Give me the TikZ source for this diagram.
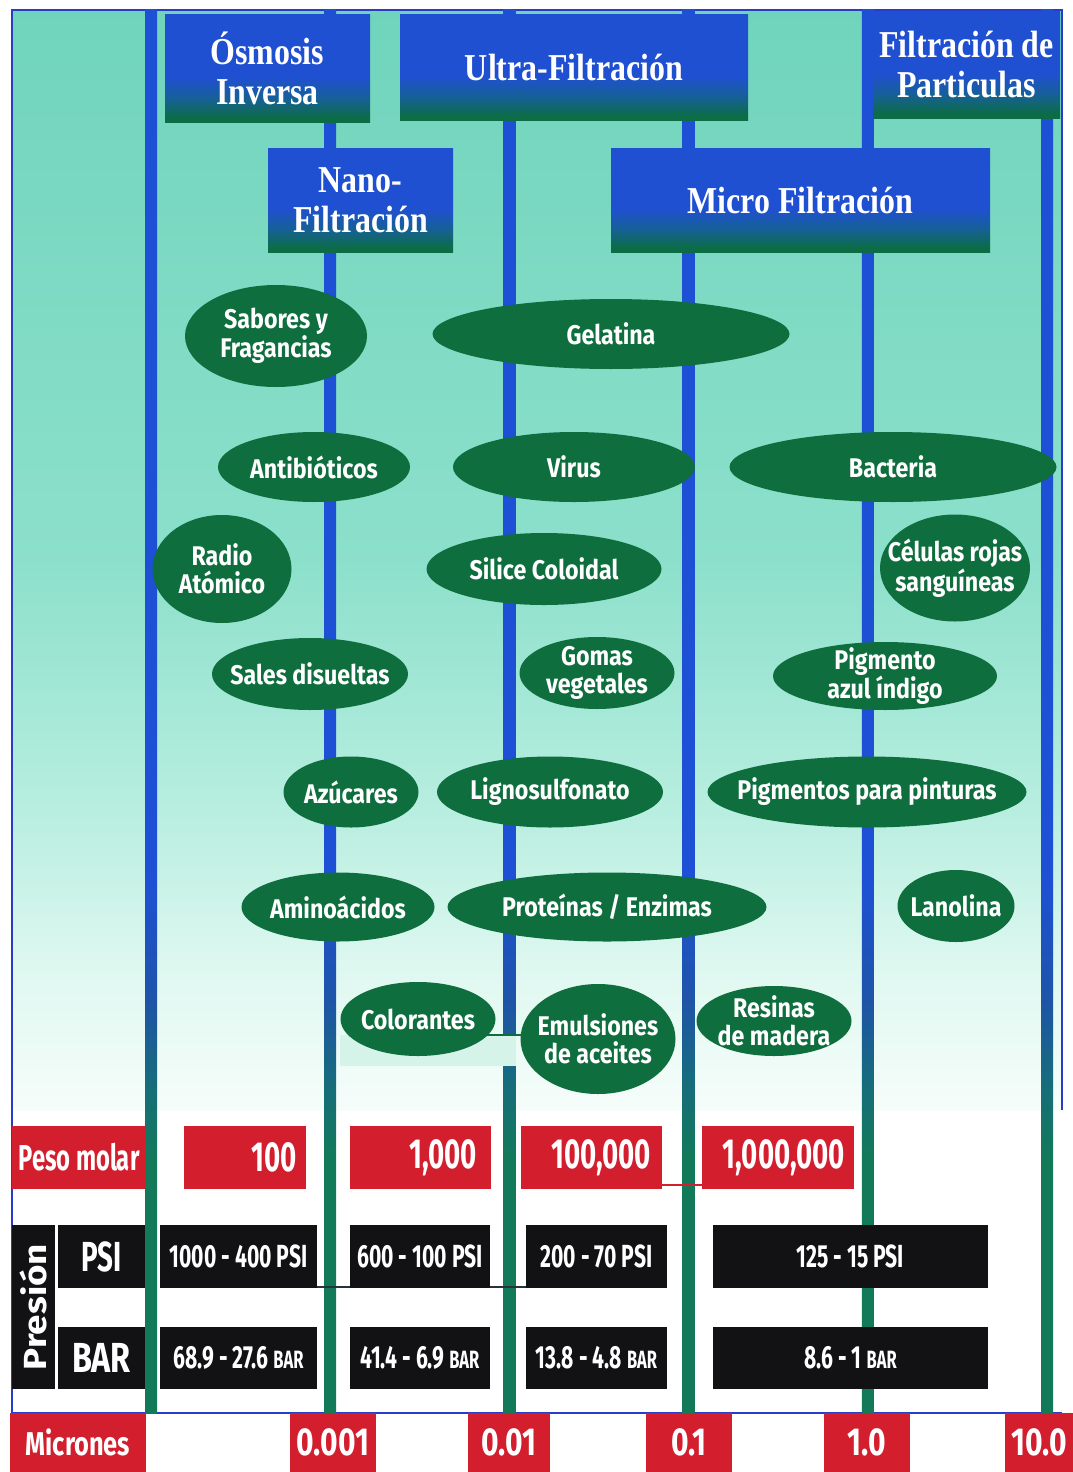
\documentclass[tikz,border=0pt]{standalone}
\usepackage{fontspec}
\usepackage{graphicx}
\usetikzlibrary{shapes.geometric}

\newfontfamily\hdrfont[FakeStretch=0.84]{Liberation Serif}
\newfontfamily\blobfont[FakeStretch=0.86]{Fira Sans}
\newfontfamily\tabfont[FakeStretch=0.66]{Fira Sans}
\newfontfamily\micfont[FakeStretch=0.77]{Fira Sans}
\newfontfamily\presfont[FakeStretch=1.15]{Fira Sans}

% palette
\definecolor{bgA}{RGB}{112,212,188}
\definecolor{bgB}{RGB}{140,224,203}
\definecolor{bgC}{RGB}{184,238,224}
\definecolor{bgD}{RGB}{222,248,240}
\definecolor{bgE}{RGB}{246,253,251}
\definecolor{lnB}{RGB}{30,80,214}
\definecolor{lnS}{RGB}{30,84,168}
\definecolor{lnT}{RGB}{22,110,120}
\definecolor{lnG}{RGB}{18,122,88}
\definecolor{hdB}{RGB}{32,80,210}
\definecolor{hdM}{RGB}{22,96,150}
\definecolor{hdG}{RGB}{12,108,70}
\definecolor{blobG}{RGB}{14,110,62}
\definecolor{tabR}{RGB}{210,30,45}
\definecolor{tabK}{RGB}{18,18,20}
\definecolor{frameB}{RGB}{40,60,200}
\definecolor{patchC}{RGB}{214,243,234}
\definecolor{linkK}{RGB}{40,50,60}

% shadings (0bp = bottom, the fitted band is 25bp..75bp)
\pgfdeclareverticalshading{panelbg}{100bp}{color(0bp)=(bgE); color(25bp)=(bgE); color(31.5bp)=(bgD); color(38.5bp)=(bgC); color(50bp)=(bgB); color(75bp)=(bgA); color(100bp)=(bgA)}
\pgfdeclareverticalshading{vline}{100bp}{color(0bp)=(lnG); color(34bp)=(lnG); color(36.5bp)=(lnT); color(39.7bp)=(lnS); color(44bp)=(lnB); color(100bp)=(lnB)}
\pgfdeclareverticalshading{hdrshade}{100bp}{color(0bp)=(hdG); color(27bp)=(hdG); color(36bp)=(hdM); color(46bp)=(hdB); color(100bp)=(hdB)}

\pgfdeclarelayer{back}
\pgfdeclarelayer{mid}
\pgfsetlayers{back,mid,main}

% ellipse with its label
\newcommand\blobat[6]{%
  \node[blob, minimum width=#4, minimum height=#5] (#1) at (#2,#3) {};
  \node[blobtxt] (#1-t) at (#1) {#6};}
% box given by its corners
\newcommand\tbox[7]{%
  \node[#1, minimum width={#5-#3}, minimum height={#6-#4}] (#2) at ({(#3+#5)/2},{(#4+#6)/2}) {#7};}

\begin{document}
\begin{tikzpicture}[x=1pt,y=-1pt,
  hdr/.style={rectangle, shade, shading=hdrshade, inner sep=0pt, text=white,
    font=\hdrfont\bfseries\fontsize{38}{40}\selectfont, align=center},
  blob/.style={ellipse, fill=blobG, inner sep=0pt},
  blobtxt/.style={text=white, inner sep=0pt, align=center,
    font=\blobfont\bfseries\fontsize{27}{27.5}\selectfont},
  tabbox/.style={rectangle, inner sep=0pt, text=white, font=\tabfont\bfseries},
  redbox/.style={tabbox, fill=tabR},
  blkbox/.style={tabbox, fill=tabK},
  pmval/.style={redbox, align=right, font=\tabfont\bfseries\fontsize{42}{42}\selectfont},
  psival/.style={blkbox, font=\tabfont\bfseries\fontsize{32}{32}\selectfont},
  micval/.style={redbox, font=\micfont\bfseries\fontsize{39}{39}\selectfont}
]
\useasboundingbox (0,0) rectangle (1073,1472);

\begin{pgfonlayer}{back}
  \fill[white] (0,0) rectangle (1073,1472);
  \shade[shading=panelbg] (12,10) rectangle (1062,1110);
  \draw[frameB, line width=2pt] (12,1413) -- (12,10) -- (1062,10) -- (1062,1110);
  \draw[frameB, line width=2pt] (12,1413) -- (1062,1413);
  \foreach \x in {151,330.2,509.4,688.6,867.8,1047}
    \shade[shading=vline] (\x-6,10) rectangle (\x+6,1413);
\end{pgfonlayer}

% process headers
\tbox{hdr}{osmosis}{165}{15}{370}{122}{Ósmosis\\Inversa}
\tbox{hdr}{ultra}{400}{15}{748}{120}{Ultra-Filtración}
\tbox{hdr}{partic}{873}{12}{1060}{118}{Filtración de\\Particulas}
\tbox{hdr}{nano}{268}{148}{453}{252}{Nano-\\Filtración}
\tbox{hdr}{micro}{611}{148}{990}{252}{Micro Filtración}

% substances
\blobat{sabores}{276}{336}{182}{102}{Sabores y\\Fragancias}
\blobat{gelatina}{611}{334}{357}{70}{Gelatina}
\blobat{antibio}{314}{467}{192}{70}{Antibióticos}
\blobat{virus}{574}{467}{242}{70}{Virus}
\blobat{bacteria}{893}{467}{327}{70}{Bacteria}
\blobat{radio}{222}{569}{139}{108}{Radio\\Atómico}
\blobat{silice}{544}{569}{235}{72}{Silice Coloidal}
\blobat{celulas}{955}{568}{150}{107}{Células rojas\\sanguíneas}
\blobat{sales}{310}{674}{196}{72}{Sales disueltas}
\blobat{gomas}{597}{673}{155}{72}{Gomas\\vegetales}
\blobat{indigo}{885}{676}{224}{68}{Pigmento\\azul índigo}
\blobat{azucar}{351}{792}{135}{71}{Azúcares}
\blobat{ligno}{550}{792}{226}{71}{Lignosulfonato}
\blobat{pintura}{867}{792}{319}{71}{Pigmentos para pinturas}
\blobat{amino}{338}{907}{193}{69}{Aminoácidos}
\blobat{protein}{607}{907}{319}{69}{Proteínas / Enzimas}
\blobat{lanolina}{956}{906}{117}{72}{Lanolina}
\blobat{colorant}{418}{1019}{155}{74}{Colorantes}
\blobat{emulsion}{598}{1039}{155}{110}{Emulsiones\\de aceites}
\blobat{resinas}{774}{1021}{155}{70}{Resinas\\de madera}

% molar weight row
\tbox{redbox, font=\tabfont\bfseries\fontsize{36}{36}\selectfont}{pmlab}{12}{1126}{146}{1189}{Peso molar}
\tbox{pmval, text width=104pt}{pm1}{184}{1126}{306}{1189}{100}
\tbox{pmval, text width=113pt}{pm2}{350}{1126}{491}{1189}{1,000}
\tbox{pmval, text width=119pt}{pm3}{521}{1126}{662}{1189}{100,000}
\tbox{pmval, text width=134pt}{pm4}{702}{1126}{854}{1189}{1,000,000}

% pressure rows
\tbox{blkbox, font=\presfont\bfseries\fontsize{32}{32}\selectfont}{presion}{12}{1225}{55}{1389}{\rotatebox{90}{Presión}}
\tbox{blkbox, font=\tabfont\bfseries\fontsize{42}{42}\selectfont}{psilab}{58}{1225}{145}{1288}{PSI}
\tbox{blkbox, font=\micfont\bfseries\fontsize{42}{42}\selectfont}{barlab}{58}{1327}{145}{1389}{BAR}
\tbox{psival}{psi1}{160}{1225}{317}{1288}{1000 - 400 PSI}
\tbox{psival}{psi2}{350}{1225}{490}{1288}{600 - 100 PSI}
\tbox{psival}{psi3}{526}{1225}{667}{1288}{200 - 70 PSI}
\tbox{psival}{psi4}{713}{1225}{988}{1288}{125 - 15 PSI}
\tbox{psival}{bar1}{160}{1327}{317}{1389}{68.9 - 27.6 {\fontsize{25}{25}\selectfont BAR}}
\tbox{psival}{bar2}{350}{1327}{490}{1389}{41.4 - 6.9 {\fontsize{25}{25}\selectfont BAR}}
\tbox{psival}{bar3}{526}{1327}{667}{1389}{13.8 - 4.8 {\fontsize{25}{25}\selectfont BAR}}
\tbox{psival}{bar4}{713}{1327}{988}{1389}{8.6 - 1 {\fontsize{25}{25}\selectfont BAR}}

% micron scale
\tbox{redbox, font=\micfont\bfseries\fontsize{33}{33}\selectfont}{miclab}{10}{1413}{146}{1472}{Micrones}
\tbox{micval}{mu1}{290}{1413}{376}{1472}{0.001}
\tbox{micval}{mu2}{468}{1413}{550}{1472}{0.01}
\tbox{micval}{mu3}{646}{1413}{732}{1472}{0.1}
\tbox{micval}{mu4}{824}{1413}{910}{1472}{1.0}
\tbox{micval}{mu5}{1005}{1413}{1073}{1472}{10.0}

% links drawn beneath the boxes
\begin{pgfonlayer}{mid}
  \fill[patchC] (340,1035) rectangle (516,1066);
  \coordinate (cl) at (0,1035);
  \draw[blobG, line width=2pt] (colorant.center |- cl) -- (emulsion.center |- cl);
  \coordinate (pl) at (0,1287);
  \draw[linkK, line width=1.5pt] (psi1.center |- pl) -- (psi3.center |- pl);
  \coordinate (ml) at (0,1185);
  \draw[tabR, line width=2pt] (pm3.center |- ml) -- (pm4.center |- ml);
\end{pgfonlayer}
\end{tikzpicture}
\end{document}
